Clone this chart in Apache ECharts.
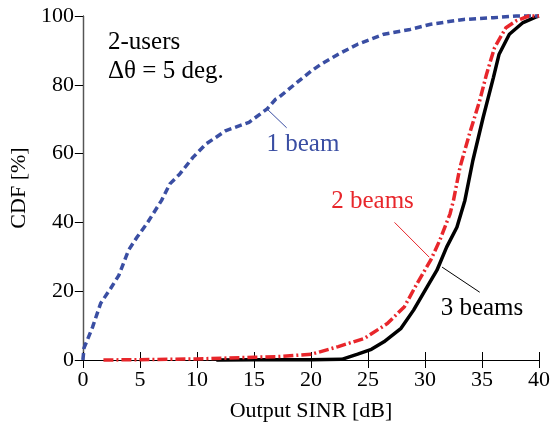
<!DOCTYPE html>
<html><head><meta charset="utf-8">
<script src="https://cdn.jsdelivr.net/npm/echarts@6/dist/echarts.min.js"></script>
<style>html,body{margin:0;padding:0;background:#fff}#c{width:553px;height:429px}</style>
</head><body><div id="c"></div>
<script>
var xTicks = [0, 5, 10, 15, 20, 25, 30, 35, 40];
var yTicks = [0, 20, 40, 60, 80, 100];

var beam1X = [0, 0.1, 0.84, 1.56, 2.43, 3.15, 4.0, 4.74, 5.6, 6.9, 7.63, 8.5, 9.65, 10.8, 12.55, 14.57, 16.16, 16.9, 17.17, 18.6, 20.06, 20.9, 22.4, 24.1, 26.4, 28.7, 30.5, 33.4, 36, 38, 40];
var beam1Y = [0, 3.5, 9.5, 16.5, 20.8, 24.6, 31.9, 35.7, 39.6, 46.4, 51.2, 54.1, 58.9, 62.8, 66.7, 69.1, 73, 75.8, 76.3, 80.2, 84.1, 86, 88.9, 91.8, 94.7, 96.1, 97.6, 99.0, 99.5, 100, 100];

var beam2X = [1.8, 5, 10, 15, 17.2, 20.06, 22.4, 24.7, 26.7, 28.2, 29.3, 30.5, 31.3, 32.2, 32.5, 33.07, 33.9, 34.8, 35.4, 36.1, 37.1, 38, 39.1, 40];
var beam2Y = [0, 0.1, 0.3, 0.8, 1, 1.7, 3.9, 6.3, 10.6, 15.5, 22.2, 29, 34.8, 42.5, 46.4, 56, 65.7, 75.4, 83.1, 90.8, 96.6, 98.6, 100, 100];

var beam3X = [11.7, 15, 20, 22.7, 24.1, 25.3, 26.4, 27.9, 29.0, 30.2, 31.05, 31.9, 32.8, 33.5, 34.2, 35.1, 36.0, 36.5, 37.4, 38.6, 39.7, 40];
var beam3Y = [0, 0.05, 0.1, 0.2, 1.7, 3.1, 5.3, 9.2, 14.5, 21.3, 26.1, 32.8, 38.6, 46.4, 58, 70.5, 82.1, 88.9, 94.7, 98.1, 99.7, 100];

var seriesNames = ['1 beam', '2 beams', '3 beams'];
var infoLines = ['2-users', '\u0394\u03b8 = 5 deg.'];

function pairs(xs, ys) { return xs.map(function (x, i) { return [x, ys[i]]; }); }

var FONT = 'Liberation Serif, Times New Roman, DejaVu Serif, serif';
var BLUE = '#3a4ea3', RED = '#e8262b', BLACK = '#000000';

function annot(color, text, tx, ty, line) {
  return {
    markLine: {
      silent: true, symbol: 'none', animation: false,
      label: { show: false },
      emphasis: { disabled: true },
      lineStyle: { color: color, width: 1, type: 'solid' },
      data: [[{ coord: line[0] }, { coord: line[1] }]]
    },
    markPoint: {
      silent: true, symbol: 'circle', symbolSize: 0, animation: false,
      label: { show: true, position: 'inside', formatter: text, color: color, fontFamily: FONT, fontSize: 25 },
      data: [{ coord: [tx, ty] }]
    }
  };
}

var chart = echarts.init(document.getElementById('c'), null, { renderer: 'canvas' });
var a1 = annot(BLUE, seriesNames[0], 19.3, 62.7, [[16.14, 73.0], [17.87, 67.5]]);
var a2 = annot(RED, seriesNames[1], 25.4, 46.1, [[27.33, 40.0], [30.37, 29.9]]);
var a3 = annot(BLACK, seriesNames[2], 35.0, 15.0, [[31.5, 27.0], [34.8, 19.7]]);

var baseAxisLine = { show: true, lineStyle: { color: '#000', width: 1.2 } };
chart.setOption({
  animation: false,
  backgroundColor: '#fff',
  grid: { left: 82, right: 10, top: 16, bottom: 69, containLabel: false },
  xAxis: [{
    type: 'value', min: xTicks[0], max: xTicks[xTicks.length - 1], interval: 5,
    axisLine: baseAxisLine,
    axisTick: { show: true, inside: true, length: 8, lineStyle: { color: '#000' } },
    axisLabel: { color: '#000', fontFamily: FONT, fontSize: 22, margin: 9 },
    splitLine: { show: false },
    name: 'Output SINR [dB]', nameLocation: 'middle', nameGap: 40,
    nameTextStyle: { color: '#000', fontFamily: FONT, fontSize: 22 }
  }, {
    type: 'value', position: 'top', min: xTicks[0], max: xTicks[xTicks.length - 1], interval: 5,
    axisLine: baseAxisLine,
    axisTick: { show: true, inside: true, length: 8, lineStyle: { color: '#000' } },
    axisLabel: { show: false }, splitLine: { show: false }
  }],
  yAxis: [{
    type: 'value', min: yTicks[0], max: yTicks[yTicks.length - 1], interval: 20,
    axisLine: baseAxisLine,
    axisTick: { show: true, inside: false, length: 8, lineStyle: { color: '#000' } },
    axisLabel: { color: '#000', fontFamily: FONT, fontSize: 22, margin: 9 },
    splitLine: { show: false },
    name: 'CDF [%]', nameLocation: 'middle', nameGap: 48, nameRotate: 90,
    nameTextStyle: { color: '#000', fontFamily: FONT, fontSize: 22 }
  }, {
    type: 'value', position: 'right', min: yTicks[0], max: yTicks[yTicks.length - 1], interval: 20,
    axisLine: { show: true, lineStyle: { color: '#555', width: 1.2 } },
    axisTick: { show: true, inside: true, length: 8, lineStyle: { color: '#000' } },
    axisLabel: { show: false }, splitLine: { show: false }
  }],
  graphic: [
    { type: 'text', x: 108, y: 42, style: { text: infoLines[0], fontFamily: FONT, fontSize: 25, fill: '#000', verticalAlign: 'middle' } },
    { type: 'text', x: 108, y: 71, style: { text: infoLines[1], fontFamily: FONT, fontSize: 25, fill: '#000', verticalAlign: 'middle' } }
  ],
  series: [
    Object.assign({
      name: seriesNames[0], type: 'line', showSymbol: false, smooth: false, clip: false,
      data: pairs(beam1X, beam1Y),
      lineStyle: { color: BLUE, width: 3.5, type: [7, 4] }, z: 3
    }, a1),
    Object.assign({
      name: seriesNames[1], type: 'line', showSymbol: false, smooth: false, clip: false,
      data: pairs(beam2X, beam2Y),
      lineStyle: { color: RED, width: 3.5, type: [10, 3, 2, 3] }, z: 4
    }, a2),
    Object.assign({
      name: seriesNames[2], type: 'line', showSymbol: false, smooth: false, clip: false,
      data: pairs(beam3X, beam3Y),
      lineStyle: { color: BLACK, width: 3.5, type: 'solid' }, z: 2
    }, a3)
  ]
});
</script>
</body></html>
